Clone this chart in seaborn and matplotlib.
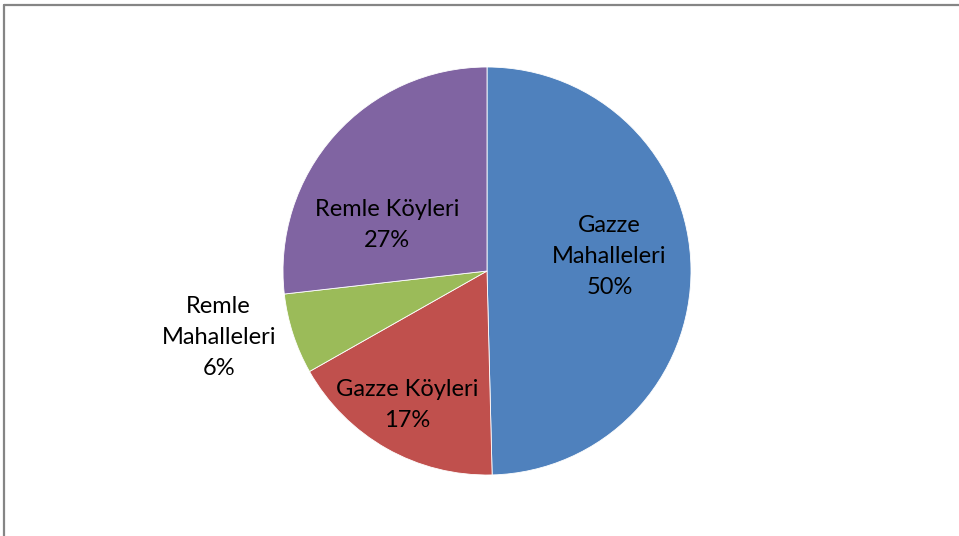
import matplotlib
matplotlib.use("Agg")
import matplotlib.pyplot as plt
import seaborn as sns
from matplotlib.lines import Line2D

categories = ["Gazze\nMahalleleri", "Gazze Köyleri", "Remle\nMahalleleri", "Remle Köyleri"]
values = [49.6, 17.2, 6.4, 26.8]
colors = ["#4F81BD", "#C0504D", "#9BBB59", "#8064A2"]
label_pos = [(0.60, 0.07), (-0.39, -0.655), (-1.315, -0.325), (-0.49, 0.225)]

sns.set_theme(style="white")
plt.rcParams["font.family"] = ["Lato", "DejaVu Sans"]

W, H = 959, 536
fig = plt.figure(figsize=(W / 100, H / 100), dpi=100)
fig.patch.set_facecolor("white")

cx, cy, r = 487, 271, 204
ax = fig.add_axes([(cx - r) / W, (H - cy - r) / H, 2 * r / W, 2 * r / H])

wedges, _ = ax.pie(values, colors=colors, startangle=90, counterclock=False,
                   radius=1, wedgeprops=dict(edgecolor="white", linewidth=0.6))
ax.set_xlim(-1, 1)
ax.set_ylim(-1, 1)
ax.set_axis_off()

total = sum(values)
for cat, v, (lx, ly) in zip(categories, values, label_pos):
    ax.text(lx, ly, f"{cat}\n{v / total * 100:.0f}%", ha="center", va="center",
            fontsize=17, color="#000000", linespacing=1.6)

# chart frame (top and left edges visible)
fig.add_artist(Line2D([4 / W, 1], [1 - 5 / H, 1 - 5 / H], transform=fig.transFigure,
                      color="#858585", lw=1.6))
fig.add_artist(Line2D([4 / W, 4 / W], [0, 1 - 5 / H], transform=fig.transFigure,
                      color="#858585", lw=1.6))

fig.savefig("out.png", dpi=100, facecolor="white")
